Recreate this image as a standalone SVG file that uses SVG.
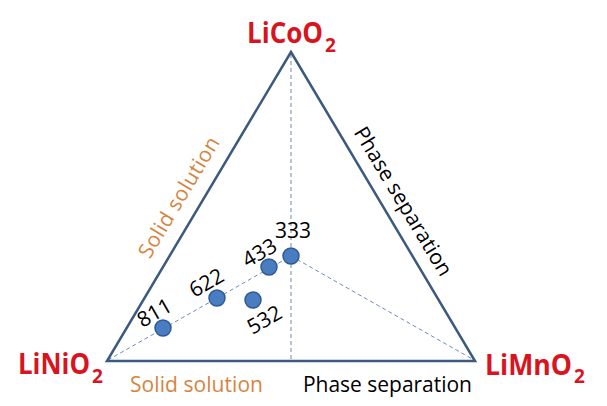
<svg xmlns="http://www.w3.org/2000/svg" width="607" height="406" viewBox="0 0 607 406">
<style>
.edge{fill:none;stroke:#3b5a7d;stroke-width:2.5;stroke-linejoin:miter}
.dash{fill:none;stroke:#6a8cb8;stroke-width:1;stroke-dasharray:4 3}
.dot{fill:#4a7cc2;stroke:#2f5a94;stroke-width:1.5}
.num{font-family:"Open Sans","Liberation Sans",sans-serif;font-size:21px;fill:#000}
.title{font-family:"Open Sans","Liberation Sans",sans-serif;font-size:28px;font-weight:bold;fill:#d8141f}
.sub{font-family:"Open Sans","Liberation Sans",sans-serif;font-size:19px;font-weight:bold;fill:#d8141f}
.orange{font-family:"Open Sans","Liberation Sans",sans-serif;font-size:21px;fill:#d8843f}
.black{font-family:"Open Sans","Liberation Sans",sans-serif;font-size:21px;fill:#000}
</style>
<rect width="607" height="406" fill="#fff"/>
<g id="connectors">
<line class="dash" x1="291" y1="54" x2="291" y2="361"/>
<line class="dash" x1="108" y1="360" x2="291" y2="256"/>
<line class="dash" x1="291" y1="256" x2="474" y2="360"/>
<polygon class="edge" points="291,52 107,361 475,361"/>
</g>
<g id="LiCoO2"><text class="title" x="247" y="43" textLength="76" lengthAdjust="spacingAndGlyphs">LiCoO</text><text class="sub" x="325" y="52">2</text></g>
<g id="LiNiO2"><text class="title" x="18" y="374" textLength="72" lengthAdjust="spacingAndGlyphs">LiNiO</text><text class="sub" x="92" y="383">2</text></g>
<g id="LiMnO2"><text class="title" x="485" y="375" textLength="87" lengthAdjust="spacingAndGlyphs">LiMnO</text><text class="sub" x="574" y="383">2</text></g>
<g id="label-left"><text class="orange" text-anchor="middle" transform="translate(185,201) rotate(-59)" textLength="137">Solid solution</text></g>
<g id="label-right"><text class="black" text-anchor="middle" transform="translate(397,205) rotate(59)" textLength="170">Phase separation</text></g>
<g id="label-bottom-left"><text class="orange" x="130" y="392" textLength="133">Solid solution</text></g>
<g id="label-bottom-right"><text class="black" x="303" y="392" textLength="169">Phase separation</text></g>
<g id="p811"><circle class="dot" cx="163" cy="328" r="8"/><text class="num" text-anchor="middle" transform="translate(158,319) rotate(-30)">811</text></g>
<g id="p622"><circle class="dot" cx="217" cy="298" r="8"/><text class="num" text-anchor="middle" transform="translate(210,289) rotate(-30)">622</text></g>
<g id="p433"><circle class="dot" cx="269" cy="267" r="8"/><text class="num" text-anchor="middle" transform="translate(263,259) rotate(-30)">433</text></g>
<g id="p333"><circle class="dot" cx="291" cy="256" r="8"/><text class="num" text-anchor="middle" x="293" y="238">333</text></g>
<g id="p532"><circle class="dot" cx="253" cy="300" r="8"/><text class="num" text-anchor="middle" transform="translate(268,326) rotate(-30)">532</text></g>
</svg>
